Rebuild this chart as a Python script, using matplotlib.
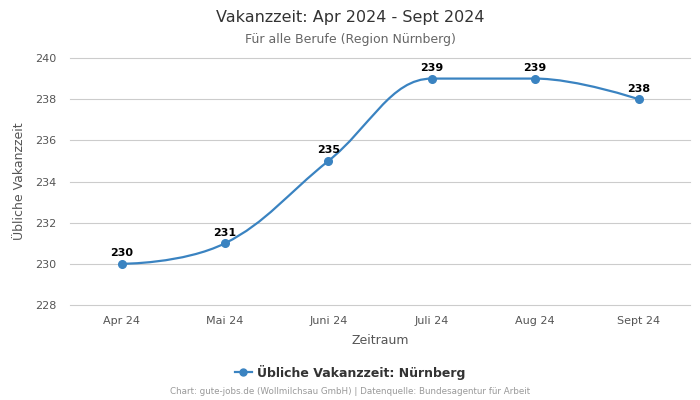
import matplotlib
matplotlib.use("Agg")
import matplotlib.pyplot as plt
import numpy as np
from matplotlib.lines import Line2D
from matplotlib.path import Path
from matplotlib.patches import PathPatch

monate = ["Apr 24", "Mai 24", "Juni 24", "Juli 24", "Aug 24", "Sept 24"]
werte = [230, 231, 235, 239, 239, 238]
y_ticks = [228, 230, 232, 234, 236, 238, 240]

farbe = "#3a83c1"


def spline_pfad(x, y, smoothing=1.5):
    # Bezier-Kontrollpunkte wie bei einem Highcharts-"spline"
    n = len(x)
    links = [(x[i], y[i]) for i in range(n)]
    rechts = [(x[i], y[i]) for i in range(n)]
    d = smoothing + 1
    for i in range(1, n - 1):
        px, py = x[i], y[i]
        lx, ly = x[i - 1], y[i - 1]
        nx, ny = x[i + 1], y[i + 1]
        lcx = (smoothing * px + lx) / d
        lcy = (smoothing * py + ly) / d
        rcx = (smoothing * px + nx) / d
        rcy = (smoothing * py + ny) / d
        if rcx != lcx:
            korr = ((rcy - lcy) * (rcx - px)) / (rcx - lcx) + py - rcy
            lcy += korr
            rcy += korr
        if lcy > ly and lcy > py:
            lcy = max(ly, py)
            rcy = 2 * py - lcy
        elif lcy < ly and lcy < py:
            lcy = min(ly, py)
            rcy = 2 * py - lcy
        if rcy > ny and rcy > py:
            rcy = max(ny, py)
            lcy = 2 * py - rcy
        elif rcy < ny and rcy < py:
            rcy = min(ny, py)
            lcy = 2 * py - rcy
        links[i] = (lcx, lcy)
        rechts[i] = (rcx, rcy)
    verts = [(x[0], y[0])]
    codes = [Path.MOVETO]
    for i in range(1, n):
        verts += [rechts[i - 1], links[i], (x[i], y[i])]
        codes += [Path.CURVE4] * 3
    return Path(verts, codes)


fig = plt.figure(figsize=(7, 4), dpi=100)
ax = fig.add_axes([0.1, 0.2375, 0.886, 0.6175])

pos = np.arange(len(monate))
ax.add_patch(PathPatch(spline_pfad(pos.astype(float), werte), fill=False,
                       edgecolor=farbe, lw=1.6, zorder=3))
ax.plot(pos, werte, "o", color=farbe, ms=5.5, zorder=4)

for xi, yi in zip(pos, werte):
    ax.annotate(str(yi), (xi, yi), xytext=(0, 4), textcoords="offset points",
                ha="center", va="bottom", fontsize=8, fontweight="bold", color="black")

ax.set_xlim(-0.5, len(monate) - 0.5)
ax.set_ylim(228, 240)
ax.set_yticks(y_ticks)
ax.set_xticks(pos)
ax.set_xticklabels(monate)
for t in y_ticks:
    ax.axhline(t, color="#cccccc", lw=0.8, zorder=0, clip_on=False)
for s in ax.spines.values():
    s.set_visible(False)
ax.tick_params(axis="both", length=0, labelsize=8, colors="#555555", pad=8)
ax.tick_params(axis="y", pad=10)

ax.set_xlabel("Zeitraum", fontsize=9, color="#555555", labelpad=6)
ax.set_ylabel("Übliche Vakanzzeit", fontsize=9, color="#555555", labelpad=6)

fig.text(0.5, 0.957, "Vakanzzeit: Apr 2024 - Sept 2024", ha="center", va="center",
         fontsize=11.5, color="#333333")
fig.text(0.5, 0.902, "Für alle Berufe (Region Nürnberg)", ha="center", va="center",
         fontsize=9, color="#666666")

handle = Line2D([0], [0], color=farbe, lw=1.6, marker="o", ms=5)
fig.legend([handle], ["Übliche Vakanzzeit: Nürnberg"], loc="center", bbox_to_anchor=(0.5, 0.07),
           frameon=False, prop={"weight": "bold", "size": 9}, handlelength=1.4,
           handletextpad=0.4, labelcolor="#333333")

fig.text(0.5, 0.02, "Chart: gute-jobs.de (Wollmilchsau GmbH) | Datenquelle: Bundesagentur für Arbeit",
         ha="center", va="center", fontsize=6.3, color="#999999")

fig.savefig("out.png", dpi=100)
